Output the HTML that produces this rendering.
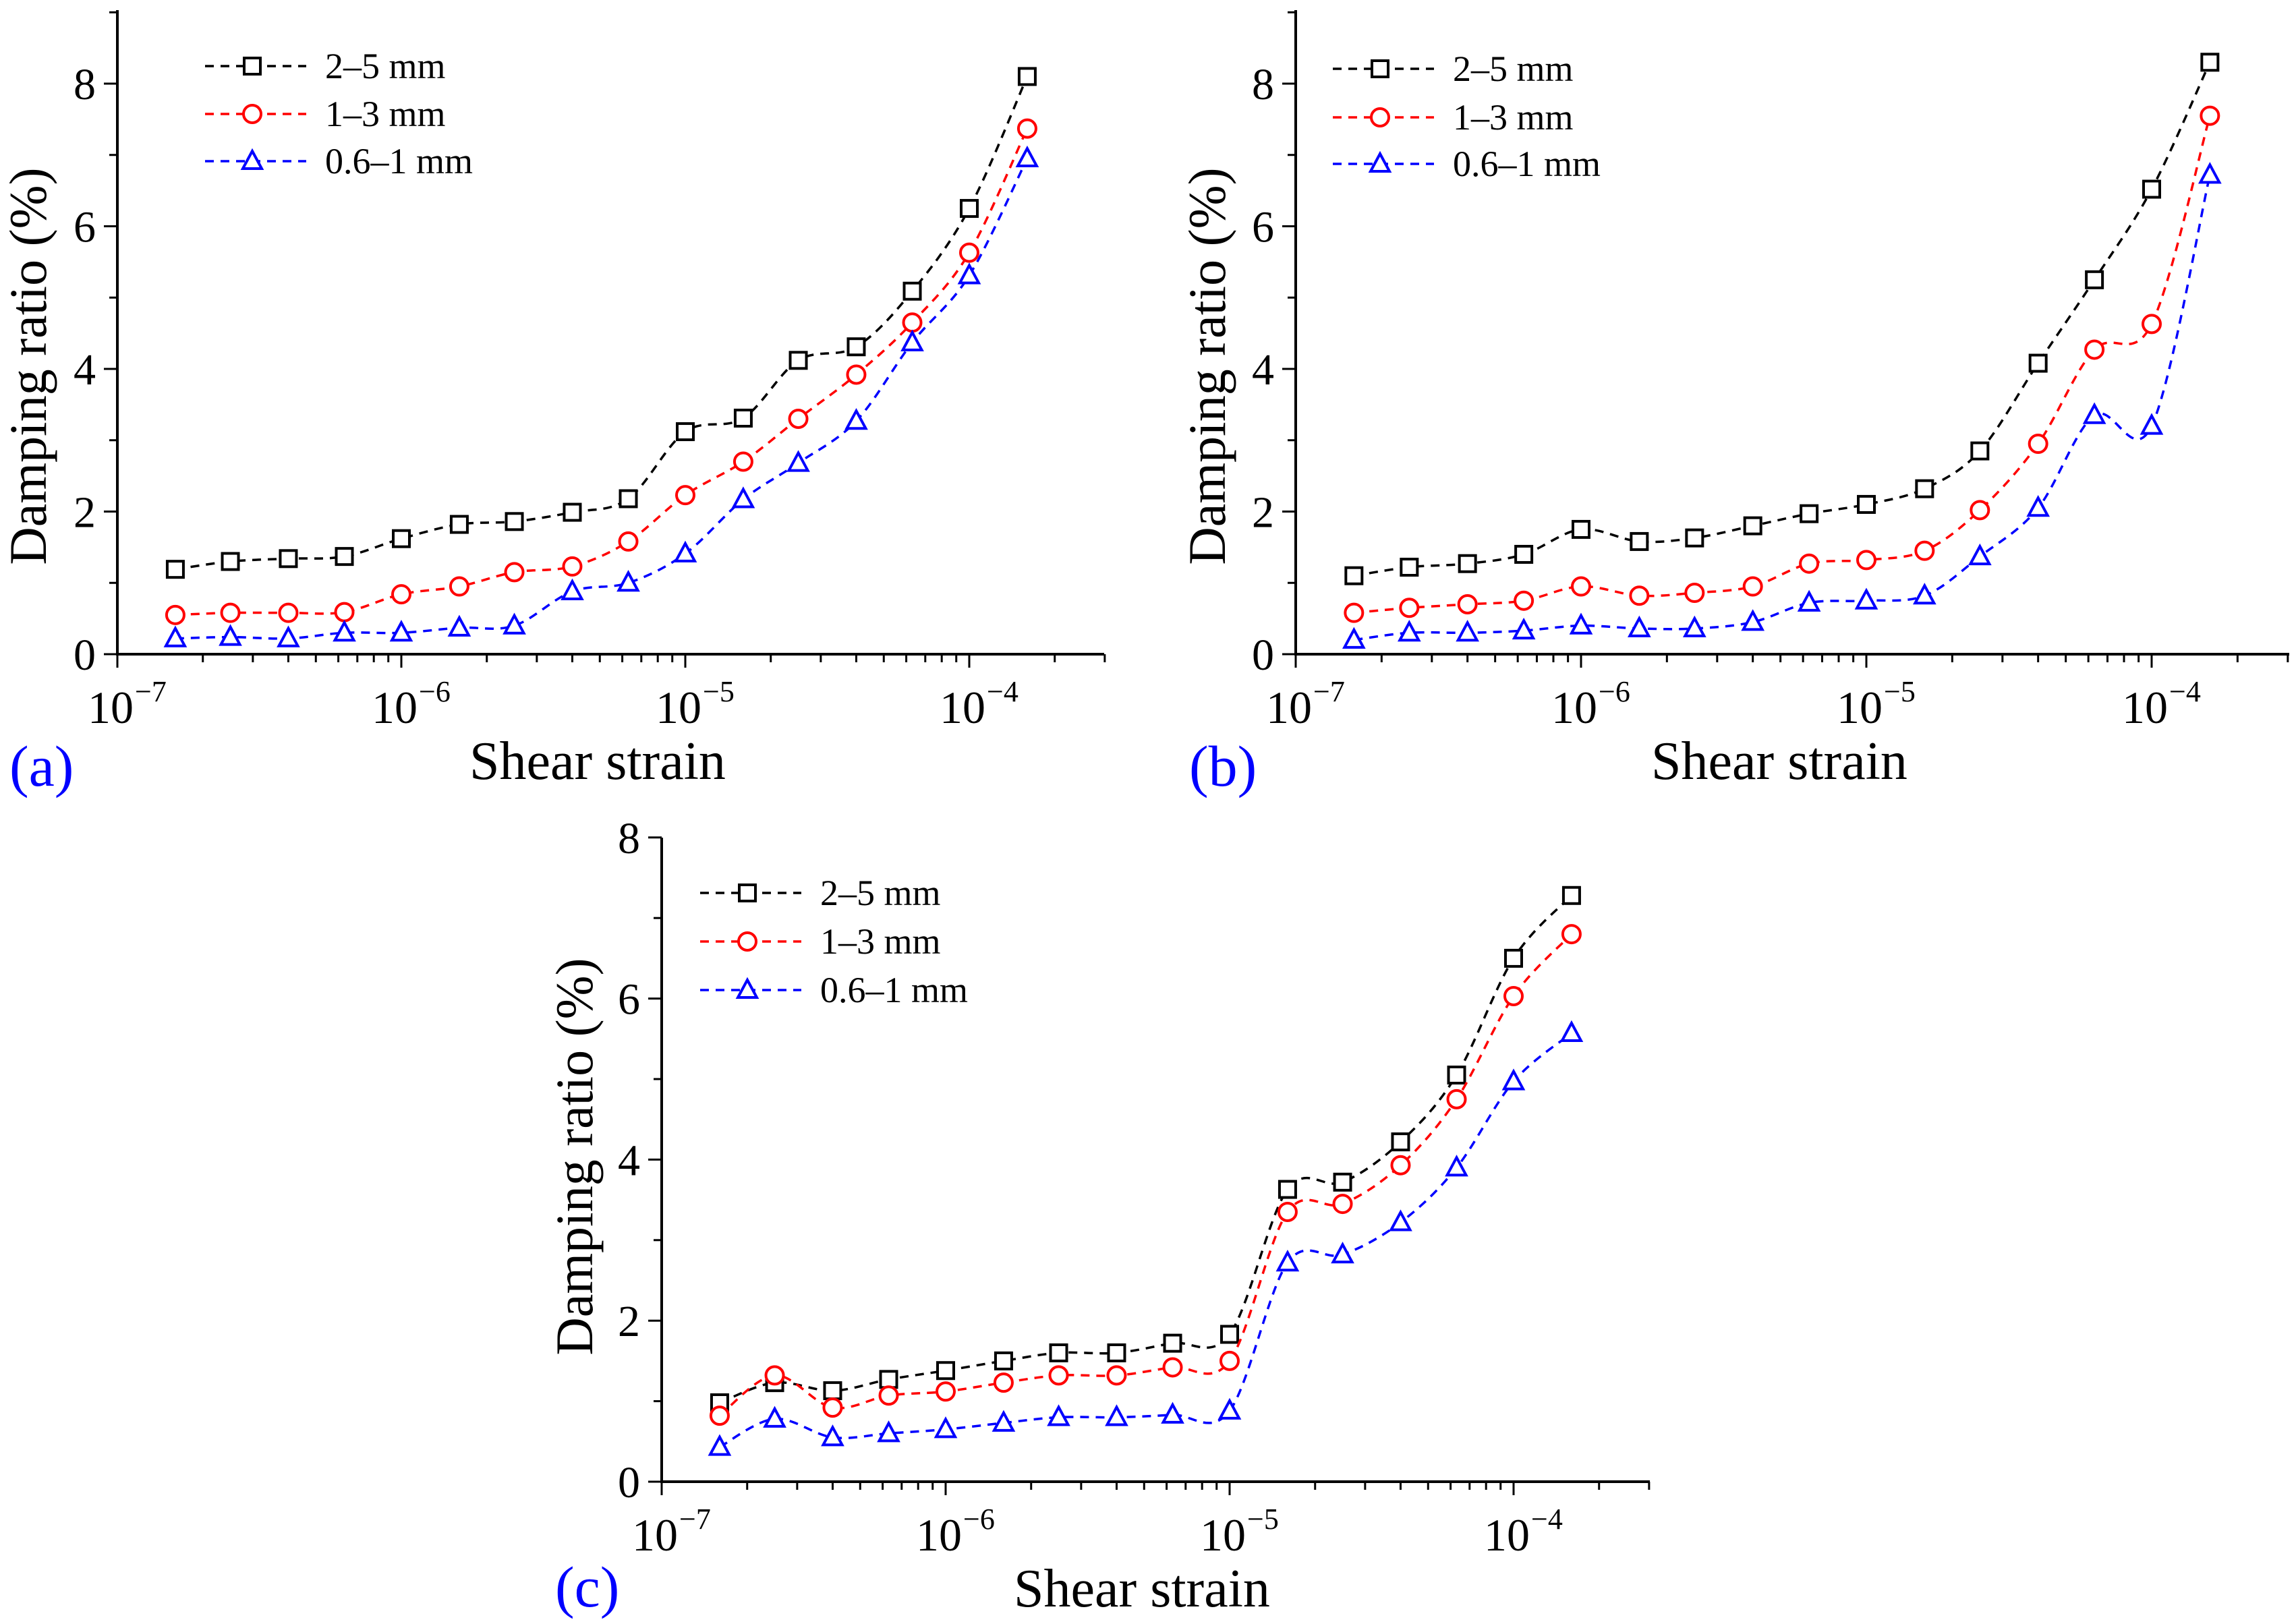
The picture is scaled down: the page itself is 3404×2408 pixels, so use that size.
<!DOCTYPE html>
<html><head><meta charset="utf-8"><style>
html,body{margin:0;padding:0;background:#fff}
svg, svg text{font-family:"Liberation Serif","DejaVu Serif",serif}
</style></head><body>
<svg id="fig" width="3404" height="2403" viewBox="0 0 3404 2403" xmlns="http://www.w3.org/2000/svg" font-family="Liberation Serif, serif"></svg>
<script>
const strains = [1.6e-7,2.5e-7,4e-7,6.3e-7,1e-6,1.6e-6,2.5e-6,4e-6,6.3e-6,1e-5,1.6e-5,2.5e-5,4e-5,6.3e-5,1e-4,1.6e-4];
const seriesNames = ["2\u20135 mm","1\u20133 mm","0.6\u20131 mm"];
const xTickExps = [-7,-6,-5,-4];
const yTicksAB = [0,2,4,6,8];
const yTicksC = [0,2,4,6,8];
const aBlack = [1.19,1.3,1.34,1.37,1.62,1.82,1.86,1.99,2.18,3.12,3.31,4.12,4.31,5.09,6.25,8.1];
const aRed   = [0.55,0.58,0.58,0.59,0.84,0.95,1.15,1.23,1.58,2.23,2.7,3.3,3.92,4.65,5.63,7.37];
const aBlue  = [0.22,0.24,0.22,0.3,0.3,0.37,0.4,0.88,1.0,1.41,2.17,2.68,3.27,4.37,5.31,6.95];
const bBlack = [1.1,1.22,1.27,1.4,1.75,1.58,1.63,1.8,1.97,2.1,2.32,2.85,4.08,5.25,6.52,8.3];
const bRed   = [0.58,0.65,0.7,0.75,0.95,0.82,0.86,0.95,1.27,1.32,1.45,2.02,2.95,4.27,4.63,7.55];
const bBlue  = [0.2,0.3,0.3,0.33,0.4,0.36,0.36,0.45,0.72,0.75,0.82,1.37,2.05,3.35,3.2,6.72];
const cBlack = [0.98,1.23,1.13,1.27,1.38,1.5,1.6,1.6,1.72,1.83,3.63,3.72,4.22,5.05,6.5,7.28];
const cRed   = [0.82,1.32,0.92,1.07,1.12,1.23,1.32,1.32,1.42,1.5,3.35,3.45,3.93,4.75,6.03,6.8];
const cBlue  = [0.43,0.78,0.55,0.6,0.65,0.73,0.8,0.8,0.83,0.88,2.72,2.82,3.22,3.9,4.97,5.57];

const NS="http://www.w3.org/2000/svg";
const svg=document.getElementById('fig');
const FONT='"Liberation Serif","DejaVu Serif",serif';
function mk(tag,attrs,parent){const e=document.createElementNS(NS,tag);for(const k in attrs)e.setAttribute(k,attrs[k]);if(tag==='text')e.style.fontFamily=FONT;(parent||svg).appendChild(e);return e;}
const colors=["#000000","#ff0000","#0000ff"];
const markers=["square","circle","triangle"];

function drawMarker(g,type,x,y,c){
  let m;
  if(type==="square") m=mk('rect',{x:x-12,y:y-12,width:24,height:24,fill:'#fff',stroke:c,'stroke-width':4},g);
  else if(type==="circle") m=mk('circle',{cx:x,cy:y,r:13,fill:'#fff',stroke:c,'stroke-width':4},g);
  else m=mk('polygon',{points:`${x},${y-15} ${x+14},${y+11} ${x-14},${y+11}`,fill:'#fff',stroke:c,'stroke-width':4},g);
  return m;
}
function splinePath(pts){
  let d=`M${pts[0][0]},${pts[0][1]}`;
  for(let i=0;i<pts.length-1;i++){
    const p0=pts[Math.max(0,i-1)],p1=pts[i],p2=pts[i+1],p3=pts[Math.min(pts.length-1,i+2)];
    const c1=[p1[0]+(p2[0]-p0[0])/6,p1[1]+(p2[1]-p0[1])/6];
    const c2=[p2[0]-(p3[0]-p1[0])/6,p2[1]-(p3[1]-p1[1])/6];
    d+=` C${c1[0]},${c1[1]} ${c2[0]},${c2[1]} ${p2[0]},${p2[1]}`;
  }
  return d;
}

function panel(cfg){
  const g=mk('g',{});
  
  
  const X=v=>cfg.x0+(Math.log10(v)+7)*cfg.dec;
  const Y=v=>cfg.y0-v*cfg.py;
  const ax=mk('line',{x1:cfg.x0,y1:cfg.y0,x2:cfg.xEnd,y2:cfg.y0,stroke:'#000','stroke-width':4},g);
  
  const ay=mk('line',{x1:cfg.x0,y1:cfg.y0+2,x2:cfg.x0,y2:cfg.yTop,stroke:'#000','stroke-width':4},g);
  
  for(let e=-7;e<=-4;e++){
    for(let k=1;k<10;k++){
      const v=k*Math.pow(10,e);const x=X(v);
      if(x>cfg.xEnd+1)break;
      mk('line',{x1:x,y1:cfg.y0,x2:x,y2:cfg.y0+(k===1?20:12),stroke:'#000','stroke-width':3},g);
    }
  }
  xTickExps.forEach(e=>{
    const x=X(Math.pow(10,e));
    const t=mk('text',{x:x+24,y:cfg.y0+102,'font-size':68,'text-anchor':'end',fill:'#000'},g);
    
    t.textContent='10';
    const s=mk('text',{x:x+26,y:cfg.y0+70,'font-size':44,fill:'#000'},g);
    s.textContent='\u2212'+(-e);
  });
  for(let v=0;v<=cfg.yMax;v++){
    const y=Y(v);if(y<cfg.yTop-1)break;
    mk('line',{x1:cfg.x0,y1:y,x2:cfg.x0-(v%2===0?20:12),y2:y,stroke:'#000','stroke-width':3},g);
  }
  cfg.yTicks.forEach(v=>{
    const t=mk('text',{x:cfg.x0-32,y:Y(v)+23,'font-size':66,'text-anchor':'end',fill:'#000'},g);
    
    t.textContent=v;
  });
  const xt=mk('text',{x:cfg.xtx,y:cfg.xty,'font-size':80,'text-anchor':'middle',fill:'#000'},g);
  
  xt.textContent='Shear strain';
  const yt=mk('text',{x:0,y:0,'font-size':78,'text-anchor':'middle',fill:'#000',transform:`translate(${cfg.ytx},${cfg.yty}) rotate(-90)`},g);
  
  yt.textContent='Damping ratio (%)';
  const pl=mk('text',{x:cfg.plx,y:cfg.ply,'font-size':86,fill:'#0000ff'},g);
  
  pl.textContent=cfg.label;
  cfg.series.forEach((vals,si)=>{
    const sg=mk('g',{},g);
    
    
    const pts=strains.map((s,i)=>[X(s),Y(vals[i])]);
    const p=mk('path',{d:splinePath(pts),fill:'none',stroke:colors[si],'stroke-width':3.5,'stroke-dasharray':'13 10'},sg);
    
    pts.forEach(pt=>{
      const m=drawMarker(sg,markers[si],pt[0],pt[1],colors[si]);
      
      
    });
  });
  const lg=mk('g',{},g);
  
  seriesNames.forEach((n,i)=>{
    const y=cfg.legY[i];
    const e=mk('g',{},lg);
    
    mk('line',{x1:cfg.legX,y1:y,x2:cfg.legX+150,y2:y,stroke:colors[i],'stroke-width':3.5,'stroke-dasharray':'13 10'},e);
    drawMarker(e,markers[i],cfg.legX+70,y,colors[i]);
    const t=mk('text',{x:cfg.legX+178,y:y+18,'font-size':54,fill:'#000'},e);
    t.textContent=n;
  });
}

panel({name:'panel-a',label:'(a)',x0:174,dec:421,xEnd:1637,y0:970,py:105.75,yTop:15,yMax:9,yTicks:yTicksAB,
  xtx:886,xty:1155,ytx:68,yty:543,plx:14,ply:1165,legX:304,legY:[98,169,239],series:[aBlack,aRed,aBlue]});
panel({name:'panel-b',label:'(b)',x0:1921,dec:423,xEnd:3394,y0:970,py:105.75,yTop:15,yMax:9,yTicks:yTicksAB,
  xtx:2638,xty:1155,ytx:1816,yty:543,plx:1763,ply:1165,legX:1976,legY:[102,174,243],series:[bBlack,bRed,bBlue]});
panel({name:'panel-c',label:'(c)',x0:981,dec:421,xEnd:2446,y0:2197,py:119.4,yTop:1242,yMax:8,yTicks:yTicksC,
  xtx:1693,xty:2382,ytx:878,yty:1715,plx:823,ply:2382,legX:1038,legY:[1324,1396,1468],series:[cBlack,cRed,cBlue]});
</script>
</body></html>
